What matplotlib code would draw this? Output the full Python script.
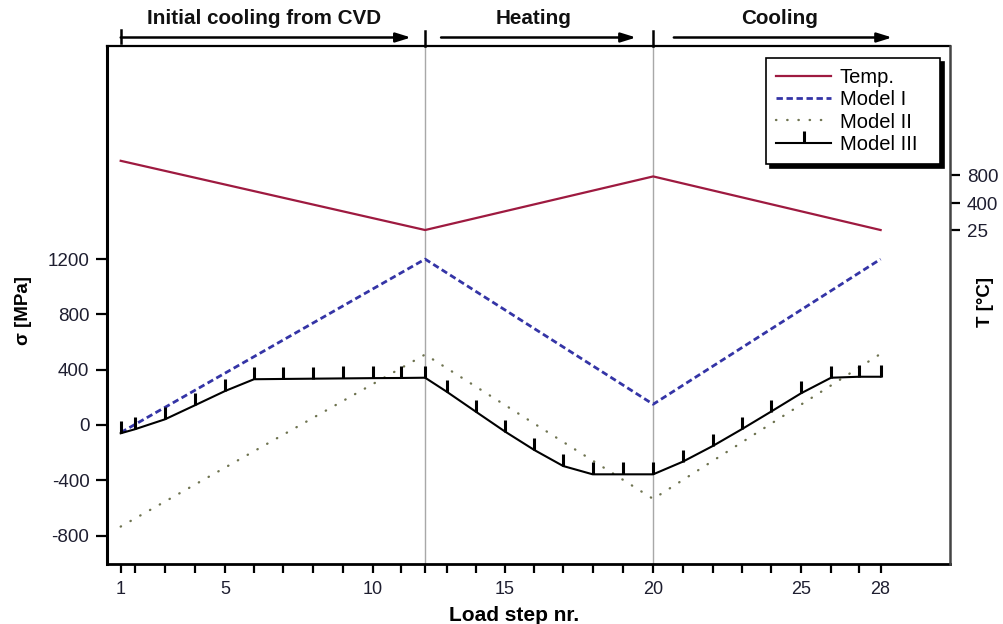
import matplotlib
matplotlib.use('Agg')
import matplotlib.pyplot as plt
from matplotlib.transforms import blended_transform_factory

plt.rcParams['font.family'] = ['Liberation Sans', 'DejaVu Sans']

# ---- data ----
steps = list(range(1, 29))
# position of each load step along the horizontal axis (non-uniform spacing)
step_pos = [1.0, 1.48, 2.5, 3.52, 4.54, 5.52, 6.5, 7.51, 8.53, 9.54, 10.49, 11.32,
            12.05, 13.04, 14.03, 15.02, 16.0, 17.0, 18.02, 19.05, 20.05, 21.07,
            22.05, 23.04, 24.06, 25.08, 26.04, 26.76]
labelled_steps = [1, 5, 10, 15, 20, 25, 28]
phase_steps = [1, 12, 20, 28]          # break points of the thermal cycle
phase_names = ['Initial cooling from CVD', 'Heating', 'Cooling']

temp_vals = [1000, 25, 780, 25]        # T [°C] at phase_steps
model1_vals = [-55, 1200, 150, 1200]   # σ [MPa] at phase_steps
model2_vals = [-735, 510, -535, 515]   # σ [MPa] at phase_steps
model3_vals = [-60, -31, 41, 143, 246, 331, 333, 335, 337, 339, 340, 342,
               241, 96, -48, -181, -297, -357, -357, -357, -266, -152, -31,
               96, 229, 342, 349, 349]  # σ [MPa] at every step

sigma_ticks = [-800, -400, 0, 400, 800, 1200]
temp_ticks = [25, 400, 800]

# ---- figure ----
W, H = 1004, 624
fig = plt.figure(figsize=(W / 100, H / 100), dpi=100)
L, R, T, B = 107.5, 950, 46, 564.3
ax = fig.add_axes([L / W, 1 - B / H, (R - L) / W, (B - T) / H])

pos = dict(zip(steps, step_pos))
phase_x = [pos[s] for s in phase_steps]

ax.plot(phase_x, model1_vals, color='#3434A6', lw=2.0, linestyle=(0, (2.3, 1.3)),
        label='Model I', zorder=3)
ax.plot(phase_x, model2_vals, color='#6E7350', lw=1.7, linestyle=(0, (0.15, 4.6)),
        dash_capstyle='round', label='Model II', zorder=3)
ax.plot(step_pos, model3_vals, color='black', lw=1.5, marker=2, markersize=9,
        markeredgewidth=2.2, label='Model III', zorder=4)

for s in phase_steps[1:3]:
    ax.axvline(pos[s], color='#A8A8A8', lw=1.0, zorder=1)

ax.set_xlim((L - 120.7) / 29.5 + 1, (R - 120.7) / 29.5 + 1)
ax.set_ylim(-1008, 2742)
ax.set_yticks(sigma_ticks)
ax.set_yticklabels([str(v) for v in sigma_ticks])
ax.set_xticks(step_pos)
ax.set_xticklabels([str(s) if s in labelled_steps else '' for s in steps])

ax.tick_params(axis='y', direction='out', length=8, width=1.6, pad=5,
               labelsize=13.5, labelcolor='#1e1e30')
ax.tick_params(axis='x', direction='out', length=6.5, width=1.6, pad=5.5,
               labelsize=13, labelcolor='#1e1e30')
ax.spines['left'].set_linewidth(2.2)
ax.spines['bottom'].set_linewidth(2.0)
ax.spines['top'].set_linewidth(1.6)
ax.spines['right'].set_visible(False)

ax.set_ylabel('σ [MPa]', fontsize=13.5, fontweight='bold')
ax.yaxis.set_label_coords((32 - L) / (R - L), (B - 311) / (B - T))
ax.set_xlabel('Load step nr.', fontsize=15, fontweight='bold')
ax.xaxis.set_label_coords((514 - L) / (R - L), (B - 606) / (B - T))

# temperature axis
ax2 = ax.twinx()
ax2.plot(phase_x, temp_vals, color='#9E1A40', lw=1.6, label='Temp.', zorder=3)
ax2.set_ylim(-4683, 2617)
ax2.set_yticks(temp_ticks)
ax2.set_yticklabels([str(v) for v in temp_ticks])
ax2.tick_params(axis='y', direction='out', length=7, width=1.6, pad=5,
                labelsize=13.5, labelcolor='#1e1e30')
for sp in ['left', 'bottom', 'top']:
    ax2.spines[sp].set_visible(False)
ax2.spines['right'].set_linewidth(1.8)
ax2.spines['right'].set_color('#444444')
ax2.set_ylabel('T [°C]', fontsize=13.5, fontweight='bold')
ax2.yaxis.set_label_coords((977 - L) / (R - L), (B - 302) / (B - T))

# legend
yf = lambda p: (B - p) / (B - T)
xf = lambda p: (p - L) / (R - L)
handles = ax2.get_lines()[:1] + ax.get_lines()[:3]
leg = ax2.legend(handles, [h.get_label() for h in handles],
                 loc='upper left', mode='expand',
                 bbox_to_anchor=(xf(766), yf(163), xf(940) - xf(766), yf(58) - yf(163)),
                 borderaxespad=0,
                 fontsize=14.5, frameon=True, fancybox=False, framealpha=1,
                 edgecolor='black', numpoints=1, handlelength=2.75, handletextpad=0.4,
                 labelspacing=0.16, borderpad=0.5,
                 shadow={'color': 'black', 'alpha': 1, 'ox': 3, 'oy': -3})
leg.get_frame().set_linewidth(1.2)

# phase annotations above the plot
tr = blended_transform_factory(ax.transData, ax.transAxes)
arrow_y = yf(37.5)
arrow_spans = [(phase_x[0], 10.84), (11.86, 18.47), (19.75, 27.15)]
for (x0, x1) in arrow_spans:
    ax.annotate('', xy=(x1, arrow_y), xytext=(x0, arrow_y), xycoords=tr, textcoords=tr,
                arrowprops=dict(arrowstyle='-|>,head_length=0.9,head_width=0.28',
                                color='black', lw=1.8, shrinkA=0, shrinkB=0),
                annotation_clip=False)
ax.plot([phase_x[0], phase_x[0]], [yf(29.5), yf(43)], color='black', lw=1.8,
        transform=tr, clip_on=False)
for x in phase_x[1:3]:
    ax.plot([x, x], [yf(31), 1.0], color='black', lw=1.8, transform=tr, clip_on=False)
text_x = [5.87, 15.01, 23.32]
for name, x in zip(phase_names, text_x):
    ax.text(x, yf(18.5), name, transform=tr, ha='center', va='center',
            fontsize=14.9, fontweight='bold', color='#111111')

fig.savefig('out.png', dpi=100)
